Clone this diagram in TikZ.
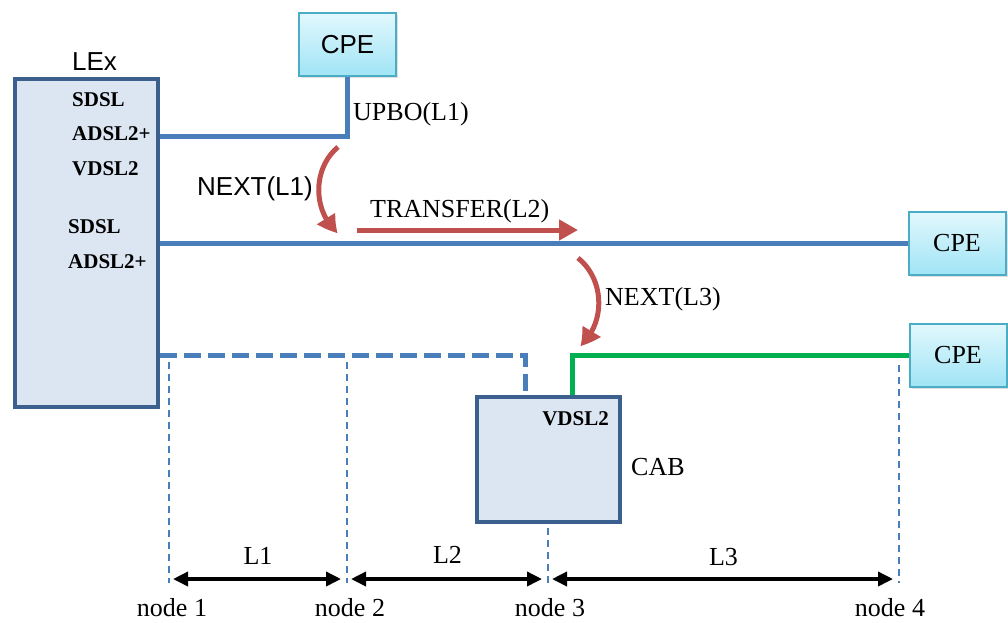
\documentclass[tikz,border=0pt]{standalone}
\usepackage{fontspec}
\setmainfont{Liberation Serif}
\setsansfont{Liberation Sans}
\usepackage{tikz}
\usetikzlibrary{positioning}
\usetikzlibrary{arrows,arrows.meta,bending,shadows}

\definecolor{boxfill}{RGB}{220,230,242}
\definecolor{boxline}{RGB}{60,96,142}
\definecolor{lineblue}{RGB}{74,126,187}
\definecolor{cpetop}{RGB}{226,248,253}
\definecolor{cpebot}{RGB}{160,228,245}
\definecolor{cpeline}{RGB}{75,172,198}
\definecolor{nextred}{RGB}{192,80,77}
\definecolor{vdslgreen}{RGB}{0,176,80}

\tikzset{
  txt/.style={font=\fontsize{26}{30}\selectfont, inner sep=0pt},
  sans/.style={font=\sffamily\fontsize{26}{30}\selectfont, inner sep=0pt},
  tech/.style={font=\bfseries\fontsize{21}{25}\selectfont, inner sep=0pt, anchor=base west},
  unit/.style={draw=boxline, line width=4.5pt, fill=boxfill},
  cpe/.style={draw=cpeline, line width=2pt, top color=cpetop, bottom color=cpebot,
    minimum width=97pt, minimum height=63pt,
    drop shadow={opacity=0.25, shadow xshift=2pt, shadow yshift=-2pt}},
  cable/.style={draw=lineblue, line width=5pt},
  guide/.style={draw=lineblue, line width=1.8pt, dash pattern=on 7pt off 5pt},
  push/.style={draw=nextred, line width=5pt, -{Triangle[length=19pt,width=20pt,bend]}},
  dim/.style={line width=3.5pt, {Triangle[length=15pt,width=14pt]}-{Triangle[length=15pt,width=14pt]},
    shorten <=4pt, shorten >=6pt}
}

\begin{document}
\begin{tikzpicture}[x=1pt,y=-1pt]
  \useasboundingbox (0,0) rectangle (1008,622);

  \node[unit, minimum width=143pt, minimum height=328pt] (lex) at (86.5,243) {};
  \node[unit, minimum width=143pt, minimum height=125pt] (cab) at (548.5,459.5) {};
  \node[cpe, sans] (cpeA) at (347.5,44.5) {CPE};
  \node[cpe, txt]  (cpeB) at (957,243.5) {CPE};
  \node[cpe, txt]  (cpeC) at (958,355) {CPE};

  \node[sans, anchor=base west] (lexname) at (72,70) {LEx};
  \node[tech] (sdslA)  at (72,106) {SDSL};
  \node[tech] (adslA)  at (72,140) {ADSL2+};
  \node[tech] (vdslA)  at (72,175) {VDSL2};
  \node[tech] (sdslB)  at (68,233) {SDSL};
  \node[tech] (adslB)  at (68,268) {ADSL2+};
  \node[tech, anchor=base east] (vdslC) at (609,425) {VDSL2};
  \node[txt, anchor=base west] (cabname) at (631,475) {CAB};

  % loops
  \draw[cable] (lex.east |- 0,136) -| (cpeA.south);
  \draw[cable] (lex.east |- cpeB.west) -- (cpeB.west);
  \draw[cable, dash pattern=on 17pt off 7pt] (lex.east |- 0,355) -| (cab.north -| 525,0);
  \draw[cable, draw=vdslgreen] (cab.north -| 572,0) |- (cpeC.west);
  \node[txt, anchor=base west] (upbo) at (353,120) {UPBO(L1)};

  % crosstalk
  \coordinate (nxAs) at (338,147);
  \coordinate (nxAe) at (338,233);
  \coordinate (trs)  at (357,230);
  \coordinate (tre)  at (578,230);
  \coordinate (nxCs) at (578,258);
  \coordinate (nxCe) at (580,346);
  \draw[push] (nxAs) to[bend right=50] (nxAe);
  \draw[push] (trs) -- (tre);
  \draw[push] (nxCs) to[bend left=50] (nxCe);
  \node[sans, anchor=base east] (nxA) at (313,195) {NEXT(L1)};
  \node[txt, anchor=base west]  (tr)  at (370,217) {TRANSFER(L2)};
  \node[txt, anchor=base west]  (nxC) at (605,305) {NEXT(L3)};

  % lengths
  \coordinate (n1) at (169,579);
  \coordinate (n2) at (347,579);
  \coordinate (n3) at (548,579);
  \coordinate (n4) at (899,579);
  \foreach \n/\t in {n1/362, n2/362, n3/528, n4/365}
    \draw[guide] (\n |- 0,\t) -- (\n |- 0,583);
  \draw[dim] (n1) -- node[txt, above=13pt] (len1) {L1} (n2);
  \draw[dim] (n2) -- node[txt, above=14pt] (len2) {L2} (n3);
  \draw[dim] (n3) -- node[txt, above=12pt] (len3) {L3} (n4);
  \node[txt, anchor=base] (node1) at (172,616) {node 1};
  \node[txt, anchor=base] (node2) at (350,616) {node 2};
  \node[txt, anchor=base] (node3) at (550,616) {node 3};
  \node[txt, anchor=base] (node4) at (890,616) {node 4};
\end{tikzpicture}
\end{document}
